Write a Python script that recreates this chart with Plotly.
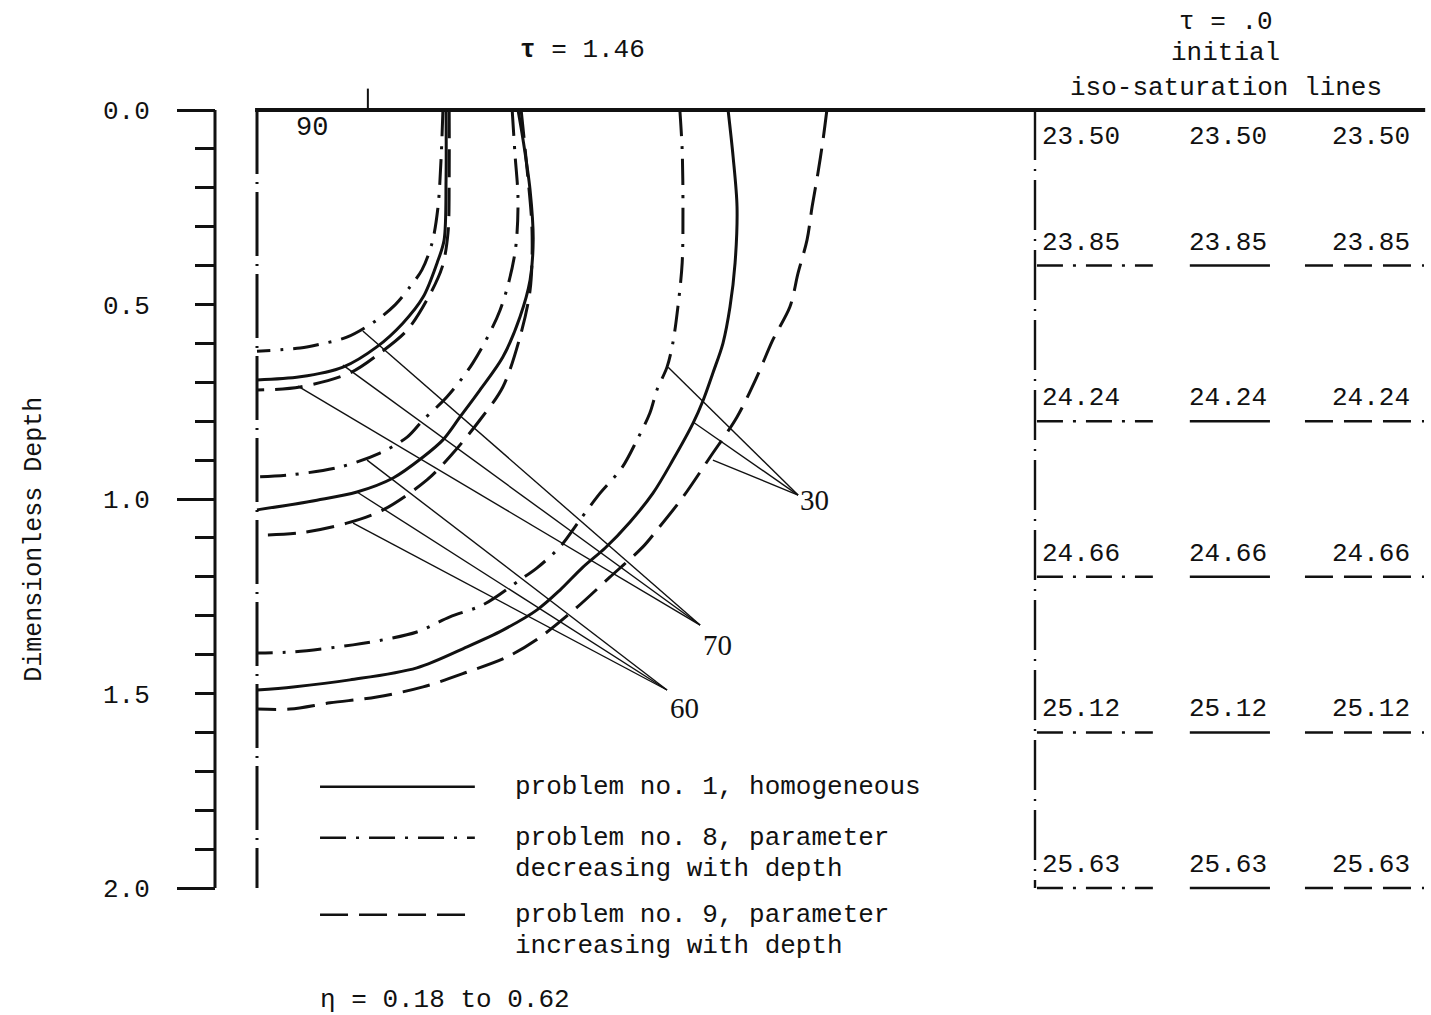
import plotly.graph_objects as go

# ---------------------------------------------------------------
# Iso-saturation lines at tau = 1.46 (horizontal distance, depth)
# P1 = problem no. 1 (solid), P8 = problem no. 8 (dash-dot),
# P9 = problem no. 9 (dashed)
# ---------------------------------------------------------------
# 70 %
S70_P1_X = [0.486, 0.486, 0.481, 0.463, 0.427, 0.375, 0.308, 0.221, 0.111, 0.0]
S70_P1_Y = [0.0, 0.180, 0.334, 0.393, 0.481, 0.548, 0.609, 0.661, 0.686, 0.694]
S70_P8_X = [0.478, 0.473, 0.465, 0.450, 0.424, 0.393, 0.355, 0.308, 0.231, 0.162, 0.111, 0.0]
S70_P8_Y = [0.0, 0.129, 0.252, 0.342, 0.411, 0.455, 0.501, 0.540, 0.584, 0.602, 0.612, 0.620]
S70_P9_X = [0.494, 0.494, 0.491, 0.476, 0.437, 0.386, 0.316, 0.239, 0.111, 0.0]
S70_P9_Y = [0.0, 0.180, 0.316, 0.404, 0.488, 0.566, 0.625, 0.676, 0.712, 0.720]

# 60 %
S60_P1_X = [0.671, 0.684, 0.702, 0.710, 0.702, 0.676, 0.632, 0.573, 0.522, 0.478, 0.427, 0.350, 0.257, 0.154, 0.0]
S60_P1_Y = [0.0, 0.077, 0.206, 0.334, 0.437, 0.532, 0.635, 0.720, 0.789, 0.848, 0.892, 0.946, 0.982, 1.003, 1.028]
S60_P8_X = [0.656, 0.663, 0.671, 0.663, 0.625, 0.555, 0.488, 0.427, 0.386, 0.316, 0.213, 0.085, 0.0]
S60_P8_Y = [0.0, 0.111, 0.231, 0.368, 0.514, 0.650, 0.738, 0.797, 0.841, 0.882, 0.918, 0.938, 0.943]
S60_P9_X = [0.679, 0.692, 0.707, 0.702, 0.676, 0.632, 0.573, 0.504, 0.437, 0.324, 0.231, 0.111, 0.0]
S60_P9_Y = [0.0, 0.129, 0.308, 0.463, 0.584, 0.712, 0.797, 0.882, 0.951, 1.028, 1.062, 1.087, 1.093]

# 30 %
S30_P1_X = [1.211, 1.224, 1.234, 1.229, 1.216, 1.198, 1.172, 1.147, 1.121, 1.069, 1.018, 0.959,
            0.895, 0.838, 0.779, 0.720, 0.632, 0.540, 0.411, 0.239, 0.093, 0.0]
S30_P1_Y = [0.0, 0.121, 0.249, 0.393, 0.506, 0.599, 0.676, 0.746, 0.805, 0.900, 0.985, 1.059,
            1.126, 1.175, 1.234, 1.285, 1.337, 1.380, 1.434, 1.465, 1.483, 1.491]
S30_P8_X = [1.087, 1.093, 1.095, 1.093, 1.082, 1.069, 1.054, 1.028, 1.010, 0.977, 0.938, 0.882,
            0.830, 0.779, 0.720, 0.676, 0.581, 0.496, 0.411, 0.324, 0.247, 0.093, 0.0]
S30_P8_Y = [0.0, 0.103, 0.249, 0.393, 0.506, 0.599, 0.661, 0.720, 0.779, 0.848, 0.920, 0.985,
            1.054, 1.123, 1.177, 1.208, 1.272, 1.303, 1.342, 1.362, 1.375, 1.393, 1.396]
S30_P9_X = [1.465, 1.455, 1.442, 1.427, 1.414, 1.391, 1.370, 1.326, 1.285, 1.234, 1.165, 1.095,
            1.028, 0.992, 0.907, 0.823, 0.728, 0.643, 0.540, 0.427, 0.308, 0.188, 0.085, 0.0]
S30_P9_Y = [0.0, 0.077, 0.162, 0.249, 0.334, 0.419, 0.506, 0.591, 0.686, 0.789, 0.892, 0.995,
            1.080, 1.123, 1.201, 1.278, 1.355, 1.406, 1.445, 1.483, 1.509, 1.524, 1.540, 1.540]

# Leader lines: start points on the curves and common end point near each label
LEAD70_X = [0.272, 0.221, 0.105]
LEAD70_Y = [0.568, 0.656, 0.710]
LEAD70_END = (1.139, 1.324)
LEAD60_X = [0.283, 0.257, 0.247]
LEAD60_Y = [0.900, 0.982, 1.062]
LEAD60_END = (1.054, 1.491)
LEAD30_X = [1.057, 1.121, 1.172]
LEAD30_Y = [0.661, 0.802, 0.900]
LEAD30_END = (1.391, 0.990)

CURVE_LABELS = ["90", "70", "60", "30"]
CURVE_LABEL_X = [0.141, 1.185, 1.100, 1.434]
CURVE_LABEL_Y = [0.046, 1.375, 1.537, 1.003]

# Initial iso-saturation lines (tau = .0)
INIT_DEPTHS = [0.0, 0.4, 0.8, 1.2, 1.6, 2.0]
INIT_VALUES = ["23.50", "23.85", "24.24", "24.66", "25.12", "25.63"]
INIT_COL_X = [2.118, 2.496, 2.864]           # label centres per column
INIT_SEG = [(2.005, 2.303), (2.398, 2.604), (2.694, 3.0)]

# Depth axis
DEPTH_TICKS = [round(0.1 * i, 1) for i in range(21)]
DEPTH_MAJOR = {0.0: "0.0", 0.5: "0.5", 1.0: "1.0", 1.5: "1.5", 2.0: "2.0"}
DEPTH_LONG = [0.0, 1.0, 2.0]

LEGEND_TEXT = [
    ["problem no. 1, homogeneous"],
    ["problem no. 8, parameter", "decreasing with depth"],
    ["problem no. 9, parameter", "increasing with depth"],
]
LEGEND_Y = [1.740, 1.871, 2.069]
LEGEND_SAMPLE_X = [0.162, 0.560]

# ---------------------------------------------------------------
MONO = "Liberation Mono"
SERIF = "Liberation Serif"
INK = "#111111"

SOLID = "solid"
DASHDOT = "26px,10px,3px,10px"
DASHED = "28px,11px"
LEGEND_STYLES = [SOLID, DASHDOT, DASHED]     # problems 1, 8, 9
INIT_STYLES = [DASHDOT, SOLID, DASHED]       # columns: problem 8, 1, 9

X0, X1 = -257 / 389, (1431 - 257) / 389
Y_TOP, Y_BOT = -110 / 389, (1015 - 110) / 389
AXIS_POS = 215 / 1431
AXIS_X = (215 - 257) / 389

fig = go.Figure()


def line(x, y, dash=SOLID, width=3.0, yaxis="y", shape="linear"):
    fig.add_trace(go.Scatter(
        x=x, y=y, mode="lines", yaxis=yaxis, hoverinfo="skip", showlegend=False,
        line=dict(color=INK, width=width, dash=dash, shape=shape, smoothing=0.9),
    ))


# surface line and the two vertical boundaries
line([-0.005, 3.003], [0.0, 0.0], width=4)
line([0.285, 0.285], [-0.055, 0.0], width=2)
line([0.0, 0.0], [0.0, 2.0], dash="64px,8px,2px,8px", width=3)
line([2.0, 2.0], [0.0, 2.0], dash="50px,9px,2px,9px", width=2.4)

# depth-axis spine (drawn on the overlay axis carrying the long ticks)
line([AXIS_X, AXIS_X], [0.0, 2.0], width=3, yaxis="y2")

# contour families
for xs, ys in [(S70_P1_X, S70_P1_Y), (S60_P1_X, S60_P1_Y), (S30_P1_X, S30_P1_Y)]:
    line(xs, ys, SOLID, 3, shape="spline")
for xs, ys in [(S70_P8_X, S70_P8_Y), (S60_P8_X, S60_P8_Y), (S30_P8_X, S30_P8_Y)]:
    line(xs, ys, DASHDOT, 3, shape="spline")
for xs, ys in [(S70_P9_X, S70_P9_Y), (S60_P9_X, S60_P9_Y), (S30_P9_X, S30_P9_Y)]:
    line(xs, ys, DASHED, 3, shape="spline")

# leader lines
for lx, ly, end in [(LEAD70_X, LEAD70_Y, LEAD70_END),
                    (LEAD60_X, LEAD60_Y, LEAD60_END),
                    (LEAD30_X, LEAD30_Y, LEAD30_END)]:
    for sx, sy in zip(lx, ly):
        line([sx, end[0]], [sy, end[1]], width=1.4)

# initial iso-saturation line samples
for d in INIT_DEPTHS[1:]:
    for (a, b), style in zip(INIT_SEG, INIT_STYLES):
        line([a, b], [d, d], style, 2.5)

# legend samples
for y, style in zip(LEGEND_Y, LEGEND_STYLES):
    line(LEGEND_SAMPLE_X, [y, y], style, 2.5)

ann = []
for t, x, y in zip(CURVE_LABELS, CURVE_LABEL_X, CURVE_LABEL_Y):
    ann.append(dict(x=x, y=y, text=t, showarrow=False, xanchor="center", yanchor="middle",
                    font=dict(family=MONO if t == "90" else SERIF, size=27 if t == "90" else 29,
                              color=INK)))

for d, v in zip(INIT_DEPTHS, INIT_VALUES):
    for cx in INIT_COL_X:
        ann.append(dict(x=cx, y=d, text=v, showarrow=False, xanchor="center", yanchor="middle",
                        yshift=-27 if d == 0 else 23,
                        font=dict(family=MONO, size=26, color=INK)))

for txt, y in [("τ = .0", -0.226), ("initial", -0.147), ("iso-saturation lines", -0.057)]:
    ann.append(dict(x=2.49, y=y, text=txt, showarrow=False, xanchor="center", yanchor="middle",
                    font=dict(family=MONO, size=26, color=INK)))

ann.append(dict(x=0.838, y=-0.154, text="<b>τ</b> = 1.46", showarrow=False,
                xanchor="center", yanchor="middle", font=dict(family=MONO, size=26, color=INK)))

for lines, y in zip(LEGEND_TEXT, LEGEND_Y):
    for k, txt in enumerate(lines):
        ann.append(dict(x=0.658, y=y + 0.08 * k, text=txt, showarrow=False,
                        xanchor="left", yanchor="middle",
                        font=dict(family=MONO, size=26, color=INK)))

ann.append(dict(x=0.157, y=2.288, text="η = 0.18 to 0.62", showarrow=False,
                xanchor="left", yanchor="middle", font=dict(family=MONO, size=26, color=INK)))

ann.append(dict(xref="paper", x=35 / 1431, y=1.105, text="Dimensionless Depth", showarrow=False,
                textangle=-90, xanchor="center", yanchor="middle",
                font=dict(family=MONO, size=25, color=INK)))

fig.update_layout(
    width=1431, height=1015,
    margin=dict(l=0, r=0, t=0, b=0),
    paper_bgcolor="white", plot_bgcolor="white",
    xaxis=dict(range=[X0, X1], visible=False, domain=[0, 1], fixedrange=True),
    yaxis=dict(
        range=[Y_BOT, Y_TOP], anchor="free", position=AXIS_POS, side="left",
        showgrid=False, zeroline=False, showline=False,
        tickmode="array", tickvals=DEPTH_TICKS,
        ticktext=[DEPTH_MAJOR.get(v, "") for v in DEPTH_TICKS],
        ticks="outside", ticklen=20, tickwidth=3, tickcolor=INK,
        ticklabelstandoff=40,
        tickfont=dict(family=MONO, size=26, color=INK),
    ),
    yaxis2=dict(
        range=[Y_BOT, Y_TOP], overlaying="y", anchor="free", position=AXIS_POS, side="left",
        showgrid=False, zeroline=False, showline=False,
        tickmode="array", tickvals=DEPTH_LONG, showticklabels=False,
        ticks="outside", ticklen=38, tickwidth=3, tickcolor=INK,
    ),
    annotations=ann,
)

fig.write_html("out.html")
